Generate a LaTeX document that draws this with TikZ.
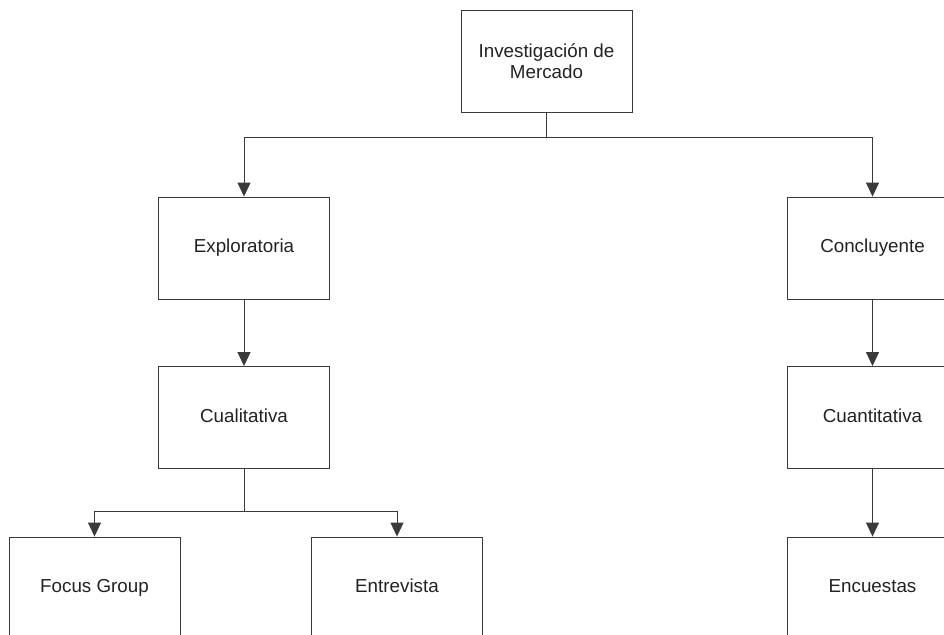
\documentclass[tikz,border=0pt]{standalone}
\usepackage{fontspec}
\setmainfont{Liberation Sans}
\usetikzlibrary{arrows.meta}

\definecolor{linegray}{HTML}{3A3A3A}
\definecolor{textgray}{HTML}{222222}

\tikzstyle{block} = [rectangle, minimum width=171pt, minimum height=102pt, text centered, align=center, text height=13.5pt, text depth=4pt, draw=linegray, line width=0.9pt, text=textgray, font=\fontsize{18.8}{21.5}\selectfont]
\tikzstyle{link} = [draw=linegray, line width=0.9pt]
\tikzstyle{arrow} = [link, -{Triangle[width=13pt,length=14pt]}]

\begin{document}
\begin{tikzpicture}[x=1pt, y=-1pt]
        \useasboundingbox (0,0) rectangle (944,634);
        \clip (0,0) rectangle (944,634);

        \node (mercado) [block, text height=35pt, text depth=0pt] at (546.5,61) {Investigación de\\Mercado};
        \node (explor) [block] at (244,248) {Exploratoria};
        \node (concl) [block] at (872.5,248) {Concluyente};
        \node (cuali) [block] at (244,417.5) {Cualitativa};
        \node (cuanti) [block] at (872.5,417.5) {Cuantitativa};
        \node (focus) [block] at (94.5,588) {Focus Group};
        \node (entrev) [block] at (397,588) {Entrevista};
        \node (encu) [block] at (872.5,588) {Encuestas};

        \coordinate (splitTop) at (546.5,137);
        \coordinate (splitLow) at (244,511);

        \draw [link] (mercado) -- (splitTop);
        \draw [arrow] (splitTop) -| (explor);
        \draw [arrow] (splitTop) -| (concl);
        \draw [arrow] (explor) -- (cuali);
        \draw [arrow] (concl) -- (cuanti);
        \draw [arrow] (cuanti) -- (encu);
        \draw [link] (cuali) -- (splitLow);
        \draw [arrow] (splitLow) -| (focus);
        \draw [arrow] (splitLow) -| (entrev);
    \end{tikzpicture}
\end{document}
